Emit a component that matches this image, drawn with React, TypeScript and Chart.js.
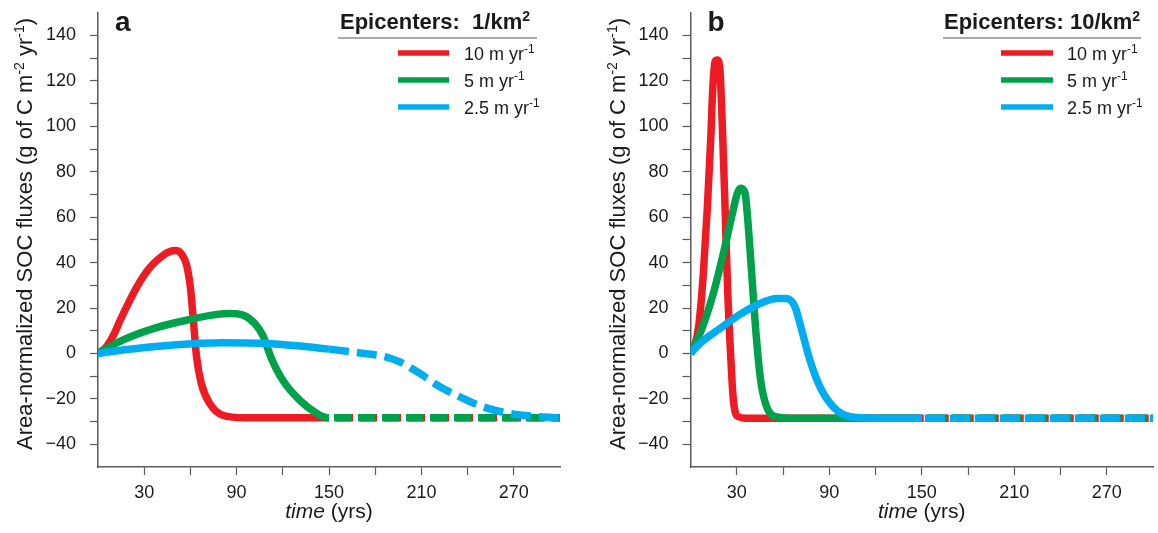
import React, { useEffect, useRef } from 'react';
import { Chart, registerables } from 'chart.js';

Chart.register(...registerables);

const FONT = "'Liberation Sans', Arial, Helvetica, sans-serif";
const TEXT = '#1a1a1a';
const AXIS = '#5a5a5a';
const RED = '#ED1C24';
const GREEN = '#00A14B';
const BLUE = '#00AEEF';

// tick labels
const xTickLabels = [30, 90, 150, 210, 270];
const yTickLabels = [-40, -20, 0, 20, 40, 60, 80, 100, 120, 140];

// legend / panel texts
const speedLabels = ['10', '5', '2.5'];
const panelLetters = ['a', 'b'];
const densityLabels = ['1', '10'];

// Panel a (1 epicenter / km2)
const timeA10 = [0, 5, 10, 15, 20, 25, 30, 35, 40, 45, 50, 54, 57.5, 60, 62, 64, 67, 72.5, 81, 96, 120, 150, 300];
const fluxA10 = [0, 2.5, 8, 15.5, 22.5, 29, 34.5, 38.8, 42, 44.4, 45.3, 44, 39, 29, 14, -1.5, -13, -22, -27.2, -28.3, -28.3, -28.3, -28.3];
const timeA5 = [0, 16, 38, 60, 77, 85.6, 94, 101.8, 107, 112.6, 120, 131, 142, 147, 150, 300];
const fluxA5 = [0, 5.9, 11.4, 15, 17.2, 17.6, 16.9, 13.2, 8, -2.2, -11.8, -20.6, -26.4, -28, -28.3, -28.3];
const timeA25 = [0, 16, 49, 81, 109, 129, 146, 150, 168, 185, 196, 209, 222, 235, 250, 267, 287, 300];
const fluxA25 = [0, 1.5, 3.7, 4.7, 4.4, 3.4, 2.2, 1.9, 0.4, -1.2, -3.7, -8.8, -14.7, -19.1, -23.5, -26.4, -27.9, -28.3];

// Panel b (10 epicenters / km2)
const timeB10 = [0, 3, 5.5, 8.3, 10.9, 13.1, 14.4, 15.9, 17.4, 19.1, 20.6, 22.4, 24.1, 26.1, 27.8, 31, 36, 50, 150, 300];
const fluxB10 = [0, 4, 13, 35, 64, 94, 116, 128.5, 129.2, 124.8, 101, 64.6, 28, -1.5, -20.6, -27.9, -28.5, -28.5, -28.5, -28.5];
const timeB5 = [0, 6.2, 14.8, 21.3, 26.7, 30.4, 32.6, 35.4, 37.5, 39.7, 42.5, 45.5, 49.4, 55.9, 66.7, 150, 300];
const fluxB5 = [0, 8.8, 26.4, 44, 60.2, 70.5, 72.7, 70.5, 55.8, 35.2, 8.8, -11.8, -23.5, -27.9, -28.5, -28.5, -28.5];
const timeB25 = [0, 6.2, 19.1, 32.1, 45.1, 55.9, 62.4, 67.8, 72.1, 77.5, 84, 92.6, 103.5, 118.6, 150, 300];
const fluxB25 = [0, 4.4, 11, 17.2, 22, 24.2, 24.2, 20.5, 10.3, -3, -14.7, -23.5, -27.9, -28.5, -28.5, -28.5];

const DASH_START = 150;

const zip = (xs: number[], ys: number[]) => xs.map((x, i) => ({ x, y: ys[i] }));

type Series = { t: number[]; v: number[]; color: string; dash: number[]; offset: number; order: number };

const panels = [
  {
    left: 0,
    width: 580,
    areaLeft: 98,
    padRight: 20,
    letter: panelLetters[0],
    density: densityLabels[0],
    gap: '  ',
    legend: { titleX: 340, ulX1: 338, ulX2: 537, lineX1: 398, lineX2: 449, textX: 464 },
    series: [
      { t: timeA10, v: fluxA10, color: RED, dash: [17, 7], offset: 17, order: 3 },
      { t: timeA5, v: fluxA5, color: GREEN, dash: [17, 7], offset: 19, order: 2 },
      { t: timeA25, v: fluxA25, color: BLUE, dash: [20, 8], offset: 0, order: 1 },
    ] as Series[],
  },
  {
    left: 580,
    width: 578,
    areaLeft: 110.5,
    padRight: 5,
    letter: panelLetters[1],
    density: densityLabels[1],
    gap: ' ',
    legend: { titleX: 364, ulX1: 363, ulX2: 561, lineX1: 421, lineX2: 473, textX: 487 },
    series: [
      { t: timeB10, v: fluxB10, color: RED, dash: [20, 5], offset: 18, order: 3 },
      { t: timeB5, v: fluxB5, color: GREEN, dash: [20, 5], offset: 20, order: 2 },
      { t: timeB25, v: fluxB25, color: BLUE, dash: [20, 5], offset: 22, order: 1 },
    ] as Series[],
  },
];

type Part = { t: string; sup?: boolean; italic?: boolean; bold?: boolean };

function drawParts(ctx: CanvasRenderingContext2D, parts: Part[], x: number, y: number, size: number, supSize: number, rise: number, align: 'left' | 'center') {
  const fontFor = (p: Part) =>
    `${p.italic ? 'italic ' : ''}${p.bold ? 'bold ' : ''}${p.sup ? supSize : size}px ${FONT}`;
  let total = 0;
  const widths = parts.map((p) => {
    ctx.font = fontFor(p);
    const w = ctx.measureText(p.t).width;
    total += w;
    return w;
  });
  let cx = align === 'center' ? x - total / 2 : x;
  parts.forEach((p, i) => {
    ctx.font = fontFor(p);
    ctx.fillText(p.t, cx, p.sup ? y - rise : y);
    cx += widths[i];
  });
}

function makeDecor(panel: (typeof panels)[number]) {
  return {
    id: 'decor' + panel.letter,
    afterDraw(chart: Chart) {
      const ctx = chart.ctx;
      const a = chart.chartArea;
      ctx.save();
      ctx.fillStyle = TEXT;
      ctx.textAlign = 'left';
      ctx.textBaseline = 'alphabetic';

      // y-axis title
      ctx.save();
      ctx.translate(a.left - 66, (a.top + a.bottom) / 2 - 6);
      ctx.rotate(-Math.PI / 2);
      drawParts(
        ctx,
        [
          { t: 'Area-normalized SOC fluxes (g of C m' },
          { t: '-2', sup: true },
          { t: ' yr' },
          { t: '-1', sup: true },
          { t: ')' },
        ],
        0,
        0,
        22,
        14,
        8,
        'center'
      );
      ctx.restore();

      // x-axis title
      drawParts(ctx, [{ t: 'time', italic: true }, { t: ' (yrs)' }], (a.left + a.right) / 2, a.bottom + 51, 21, 13, 8, 'center');

      // panel letter
      ctx.font = `bold 28px ${FONT}`;
      ctx.fillText(panel.letter, a.left + 17, a.top + 18);

      // legend title
      const L = panel.legend;
      drawParts(
        ctx,
        [
          { t: 'Epicenters:' + panel.gap + panel.density + '/km', bold: true },
          { t: '2', bold: true, sup: true },
        ],
        L.titleX,
        28.5,
        22,
        14,
        8,
        'left'
      );
      ctx.strokeStyle = '#8c8c8c';
      ctx.lineWidth = 1.5;
      ctx.beginPath();
      ctx.moveTo(L.ulX1, 38);
      ctx.lineTo(L.ulX2, 38);
      ctx.stroke();

      const ys = [53, 80, 107];
      panel.series.forEach((s, i) => {
        ctx.strokeStyle = s.color;
        ctx.lineWidth = 5.5;
        ctx.beginPath();
        ctx.moveTo(L.lineX1, ys[i]);
        ctx.lineTo(L.lineX2, ys[i]);
        ctx.stroke();
        drawParts(ctx, [{ t: speedLabels[i] + ' m yr' }, { t: '-1', sup: true }], L.textX, ys[i] + 6.5, 18, 12, 7, 'left');
      });
      ctx.restore();
    },
  };
}

function Panel({ panel }: { panel: (typeof panels)[number] }) {
  const ref = useRef<HTMLCanvasElement | null>(null);
  useEffect(() => {
    if (!ref.current) return;
    const chart = new Chart(ref.current, {
      type: 'line',
      data: {
        datasets: panel.series.map((s) => ({
          data: zip(s.t, s.v),
          borderColor: s.color,
          borderWidth: 7.5,
          pointRadius: 0,
          fill: false,
          tension: 0,
          cubicInterpolationMode: 'monotone' as const,
          borderJoinStyle: 'round' as const,
          borderCapStyle: 'butt' as const,
          order: s.order,
          segment: {
            borderDash: (c: any) => (c.p0.parsed.x >= DASH_START - 1e-6 ? s.dash : undefined),
            borderDashOffset: (c: any) => (c.p0.parsed.x >= DASH_START - 1e-6 ? s.offset : undefined),
          },
        })),
      },
      options: {
        responsive: false,
        animation: false,
        devicePixelRatio: 1,
        events: [],
        layout: { padding: { left: 0, right: panel.padRight, top: 12.8, bottom: 0 } },
        plugins: { legend: { display: false }, tooltip: { enabled: false }, title: { display: false } },
        scales: {
          x: {
            type: 'linear',
            min: 0,
            max: 300,
            afterFit: (s: any) => {
              s.height = 66;
              s.paddingLeft = 0;
              s.paddingRight = 0;
            },
            border: { display: true, color: AXIS, width: 1.5 },
            grid: {
              drawOnChartArea: false,
              drawTicks: true,
              tickLength: 8,
              tickWidth: 1.2,
              tickColor: (c: any) => (c.tick && (c.tick.value === 0 || c.tick.value === 300) ? 'rgba(0,0,0,0)' : AXIS),
            },
            ticks: {
              stepSize: 30,
              autoSkip: false,
              maxRotation: 0,
              padding: 7,
              color: TEXT,
              font: { family: FONT, size: 18 },
              callback: (v: any) => (xTickLabels.includes(Number(v)) ? String(v) : ''),
            },
          },
          y: {
            type: 'linear',
            min: -50,
            max: 150,
            afterFit: (s: any) => {
              s.width = panel.areaLeft;
              s.paddingTop = 0;
              s.paddingBottom = 0;
            },
            border: { display: true, color: AXIS, width: 1.5 },
            grid: {
              drawOnChartArea: false,
              drawTicks: true,
              tickLength: 8,
              tickWidth: 1.2,
              tickColor: (c: any) => (c.tick && (c.tick.value === -50 || c.tick.value === 150) ? 'rgba(0,0,0,0)' : AXIS),
            },
            ticks: {
              stepSize: 10,
              autoSkip: false,
              padding: 14,
              color: TEXT,
              font: { family: FONT, size: 18 },
              callback: (v: any) => {
                const n = Number(v);
                if (!yTickLabels.includes(n)) return '';
                return n < 0 ? '\u2212' + String(-n) : String(n);
              },
            },
          },
        },
      },
      plugins: [makeDecor(panel)],
    } as any);
    return () => chart.destroy();
  }, [panel]);
  return (
    <canvas
      ref={ref}
      width={panel.width}
      height={533}
      style={{ position: 'absolute', left: panel.left, top: 0, width: panel.width, height: 533 }}
    />
  );
}

export default function App() {
  return (
    <div style={{ position: 'fixed', left: 0, top: 0, width: 1158, height: 533, background: '#fff' }}>
      {panels.map((p) => (
        <Panel key={p.letter} panel={p} />
      ))}
    </div>
  );
}
